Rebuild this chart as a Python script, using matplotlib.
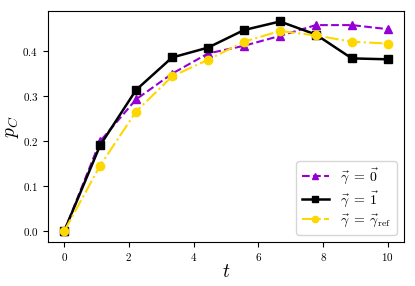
import numpy as np
import matplotlib
matplotlib.use('Agg')
import matplotlib.pyplot as plt

plt.rcParams['font.family'] = 'cmr10'
plt.rcParams['mathtext.fontset'] = 'cm'
plt.rcParams['axes.formatter.use_mathtext'] = True

# データ
t = np.linspace(0, 10, 10)
p_zero = [0.0, 0.200, 0.293, 0.350, 0.395, 0.412, 0.434, 0.458, 0.458, 0.449]
p_one = [0.0, 0.191, 0.314, 0.386, 0.408, 0.447, 0.466, 0.437, 0.384, 0.382]
p_ref = [0.0, 0.146, 0.266, 0.344, 0.381, 0.421, 0.445, 0.435, 0.421, 0.417]

labels = [r'$\vec{\gamma}\;=\;\vec{0}$',
          r'$\vec{\gamma}\;=\;\vec{1}$',
          r'$\vec{\gamma}\;=\;\vec{\gamma}_{\rm ref}$']

fig = plt.figure(figsize=(4.15, 2.86), dpi=100)
ax = fig.add_axes([0.1157, 0.1549, 0.8578, 0.8066])

ax.plot(t, p_zero, '--^', color='#9400D3', markersize=6, label=labels[0])
ax.plot(t, p_one, '-s', color='black', markersize=6, linewidth=1.8, label=labels[1])
ax.plot(t, p_ref, '-.o', color='#FFD700', markersize=6, label=labels[2])

ax.set_xlabel(r'$t$', fontsize=14, labelpad=0)
ax.set_ylabel(r'$p_C$', fontsize=14, labelpad=1)
ax.tick_params(labelsize=8)
ax.set_xticks([0, 2, 4, 6, 8, 10])
ax.set_yticks([0.0, 0.1, 0.2, 0.3, 0.4])
ax.legend(loc='lower right', fontsize=10, markerscale=0.75, labelspacing=0.25)

fig.savefig('out.png', dpi=100)
